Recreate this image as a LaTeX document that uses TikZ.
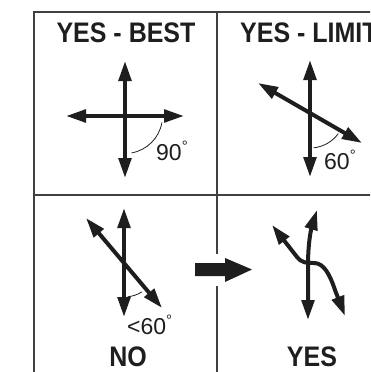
\documentclass[tikz,border=0pt]{standalone}
\usepackage{fontspec}
\setmainfont{Liberation Sans}
\usetikzlibrary{arrows.meta}
\definecolor{ink}{HTML}{1E1E1E}
\tikzset{
  frameline/.style={draw=ink!85, line width=1.6pt},
  dbl/.style={draw=ink, line width=4pt, {Triangle[length=20pt,width=12.5pt]}-{Triangle[length=20pt,width=12.5pt]}},
  anglearc/.style={draw=ink, line width=0.8pt},
  title/.style={inner sep=0pt, text=ink, font=\bfseries\fontsize{25}{25}\selectfont, yscale=1.13},
  deg/.style={inner sep=0pt, text=ink, font=\fontsize{23}{23}\selectfont, anchor=west},
}
\newcommand{\dg}{\raisebox{0.42em}{\fontsize{15}{15}\selectfont °}}
\begin{document}
\begin{tikzpicture}[x=1pt,y=-1pt]
\useasboundingbox (0,0) rectangle (370,372);
\clip (0,0) rectangle (370,372);
% frame
\draw[frameline] (34,372) -- (34,12) -- (372,12);
\draw[frameline] (34,195) -- (372,195);
\draw[frameline] (217,12) -- (217,254);
\draw[frameline] (217,286) -- (217,372);
% titles
\node[title] (t1) at (126,33) {YES - BEST};
\node[title, anchor=west] (t2) at (240,33) {YES - LIMIT};
\node[title] (t3) at (128,357) {NO};
\node[title] (t4) at (312,357) {YES};
% panel 1
\draw[dbl] (125,61) -- (125,178);
\draw[dbl] (66,116) -- (184,116);
\draw[anglearc] (125,116) ++(80:37.5) arc[start angle=80, end angle=10, radius=37.5];
\node[deg] (d1) at (156,151) {90\dg};
% panel 2
\draw[dbl] (310,60) -- (310,177);
\draw[dbl] (258,83) -- (362,143);
\draw[anglearc] (310,113) ++(84:35) arc[start angle=84, end angle=36, radius=35];
\node[deg] (d2) at (324,160) {60\dg};
% panel 3
\draw[dbl] (124,208) -- (124,317);
\draw[dbl] (86,218) -- (162,308);
\draw[anglearc] (124,263) ++(84:34) arc[start angle=84, end angle=58, radius=34];
\node[deg] (d3) at (127,325) {<60\dg};
% big arrow
\fill[ink] (195,263) -- (225,263) -- (225,258) -- (252,269.5) -- (225,282) -- (225,276) -- (195,276) -- cycle;
% panel 4
\draw[dbl] (308,320) -- (308,265) .. controls (308,240) and (312,226) .. (317,210);
\draw[dbl] (272,225) -- (297,257) .. controls (302,263) and (306,263) .. (314,263) .. controls (324,263) and (330,275) .. (335,290) -- (345,316);
\end{tikzpicture}
\end{document}
